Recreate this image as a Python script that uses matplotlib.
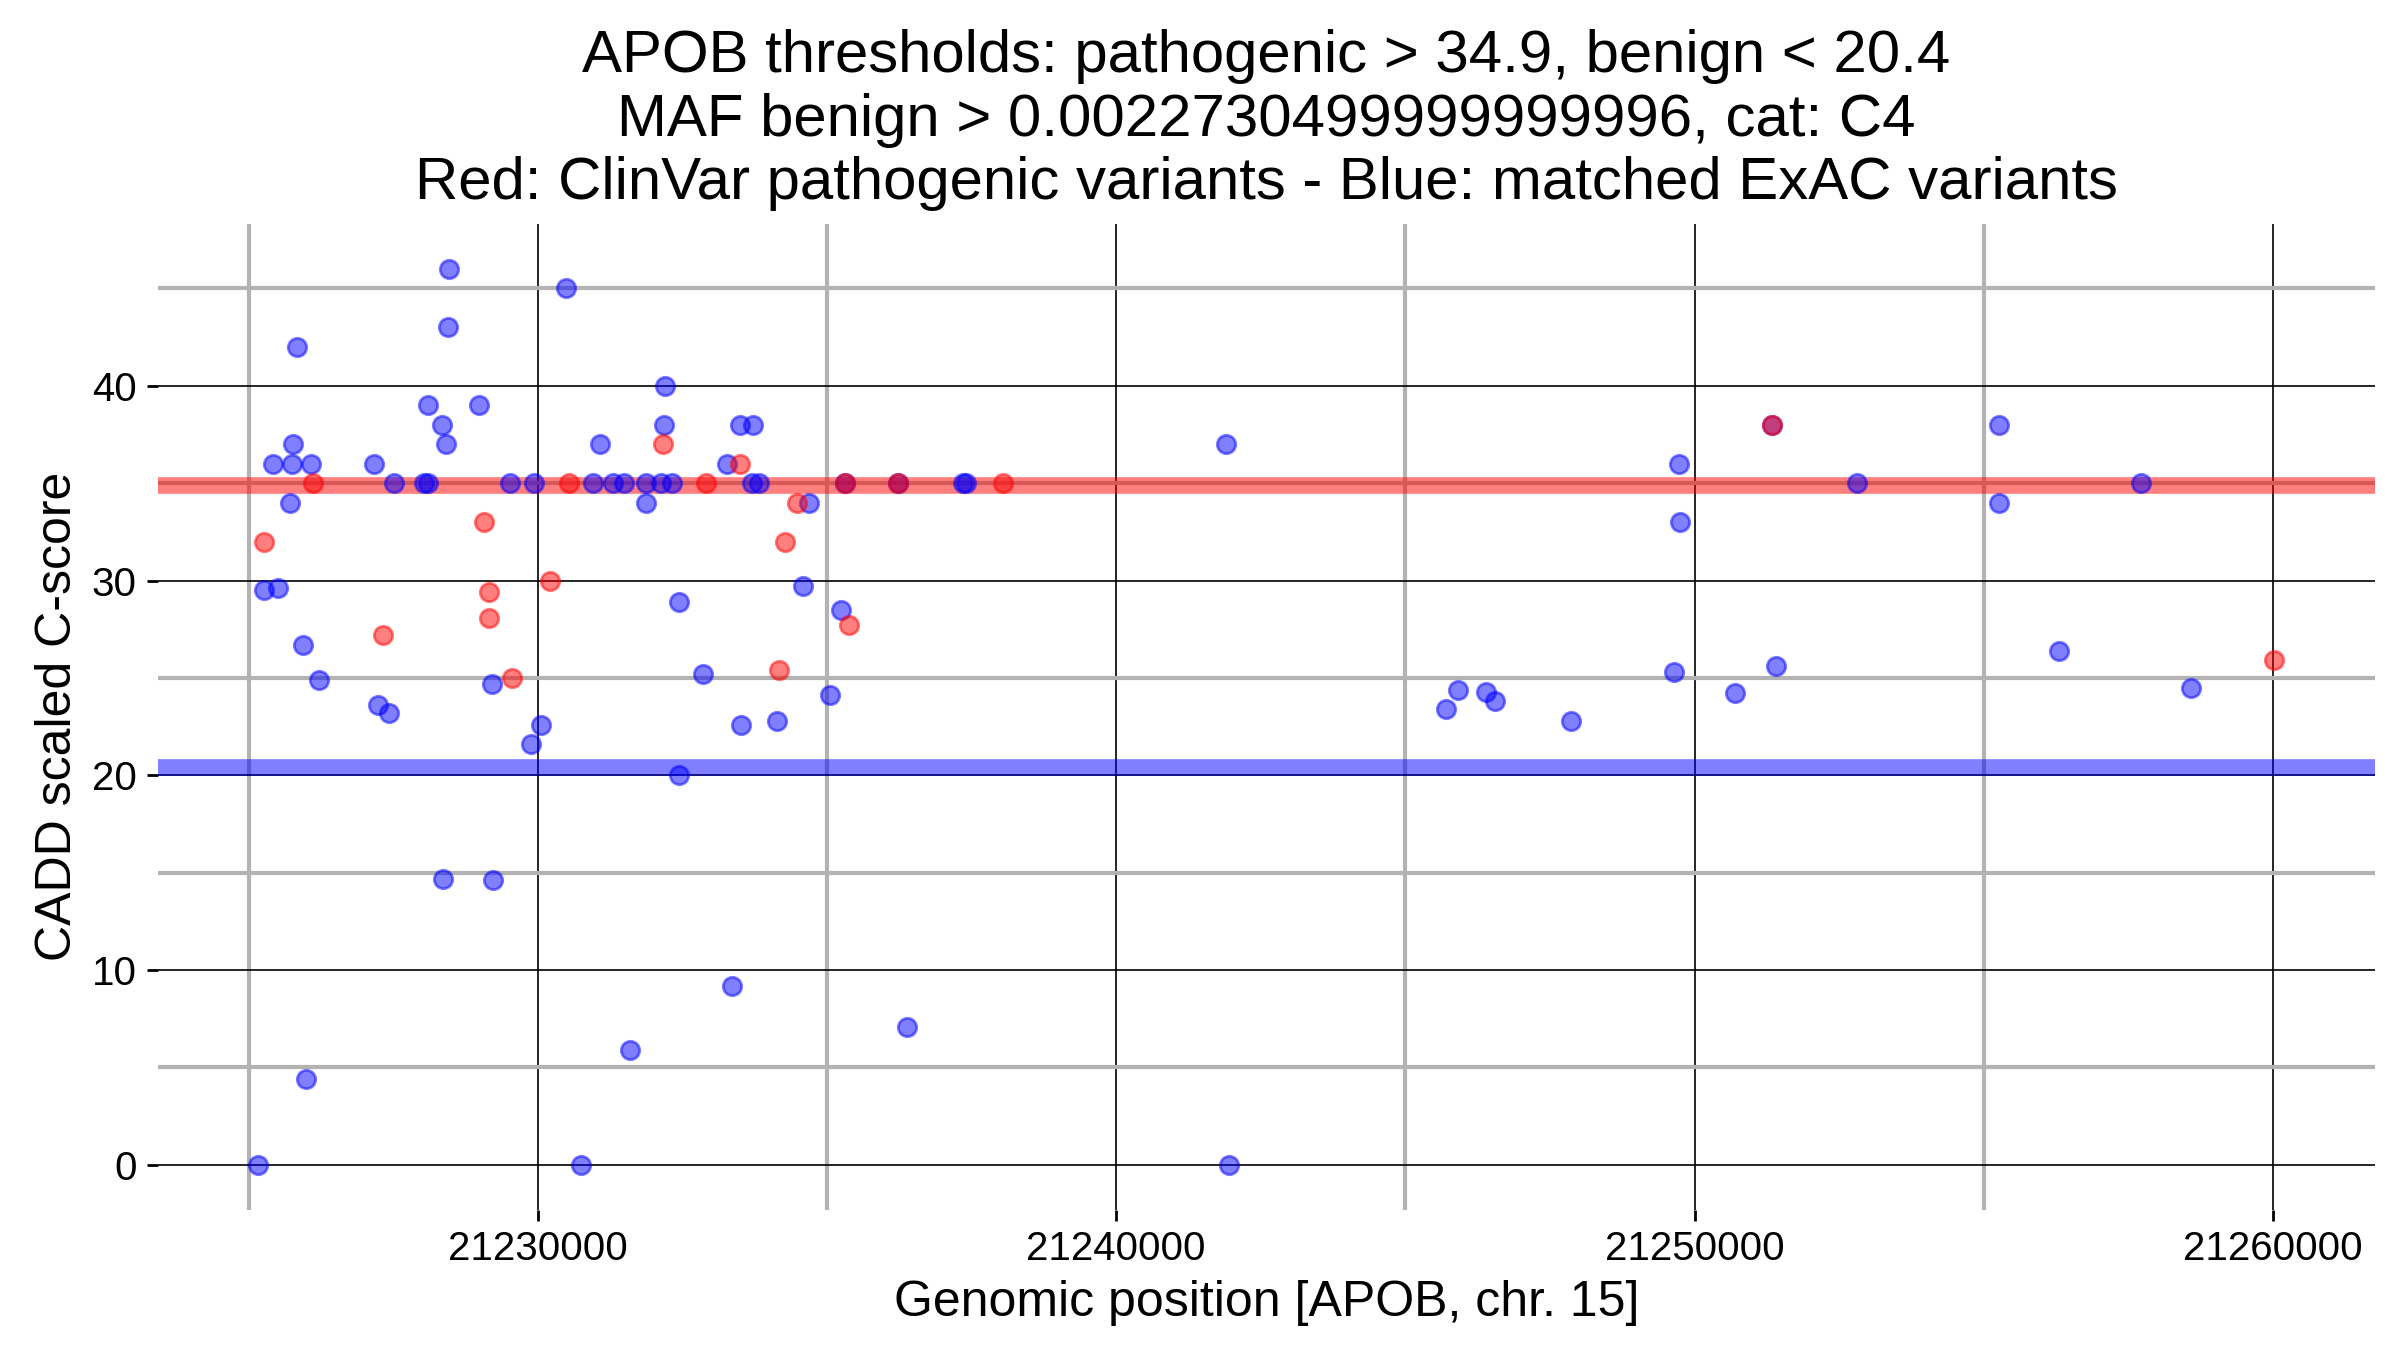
import numpy as np
import matplotlib
matplotlib.use('Agg')
import matplotlib.pyplot as plt
from matplotlib.ticker import MultipleLocator, ScalarFormatter

plt.rcParams['font.family'] = ['Liberation Sans', 'DejaVu Sans']

gene = 'APOB'
chrom = 15
path_thr = 34.9
benign_thr = 20.4
maf_thr = 0.0022730499999999996
cat = 'C4'

# ClinVar pathogenic (red)
red_pos = [21225271, 21226117, 21227321, 21229066, 21229159, 21229159, 21229551,
           21230213, 21230530, 21232171, 21232902, 21233495, 21234170, 21234274,
           21234474, 21235309, 21235386, 21236225, 21238034, 21251346, 21260029]
red_score = [32.0, 35, 27.2, 33.0, 29.4, 28.1, 25.0,
             30.0, 35, 37, 35, 36, 25.4, 32,
             34, 35, 27.7, 35, 35, 38, 25.9]

# matched ExAC (blue)
blue_pos = [21225168, 21225271, 21225501, 21225420, 21225714, 21225755, 21225766,
            21225835, 21225945, 21225996, 21226083, 21226210, 21227170, 21227241,
            21227431, 21227516, 21228024, 21228093, 21228094, 21228341, 21228351,
            21228410, 21228439, 21228456, 21228975, 21229200, 21229215, 21229510,
            21229879, 21229935, 21230058, 21230478, 21230741, 21230955, 21231080,
            21231300, 21231490, 21231596, 21231877, 21231877, 21232136, 21232183,
            21232194, 21232326, 21232434, 21232442, 21232851, 21233277, 21233360,
            21233497, 21233514, 21233697, 21233715, 21233823, 21234136, 21234591,
            21234687, 21235058, 21235236, 21235309, 21236225, 21236385, 21237350,
            21237400, 21241901, 21241958, 21245701, 21245913, 21246389, 21246554,
            21247870, 21249650, 21249729, 21249755, 21250694, 21251346, 21251409,
            21252808, 21255259, 21255259, 21256308, 21257725, 21258577]
blue_score = [0, 29.5, 29.6, 36, 34, 36, 37,
              42, 26.7, 4.4, 36, 24.9, 36, 23.6,
              23.2, 35, 35, 35, 39, 38, 14.7,
              37, 43, 46, 39, 24.7, 14.6, 35,
              21.6, 35, 22.6, 45, 0, 35, 37,
              35, 35, 5.9, 35, 34, 35, 38,
              40, 35, 20.0, 28.9, 25.2, 36, 9.2,
              38, 22.6, 35, 38, 35, 22.8, 29.7,
              34, 24.1, 28.5, 35, 35, 7.1, 35,
              35, 37, 0, 23.4, 24.4, 24.3, 23.8,
              22.8, 25.3, 36, 33, 24.2, 38, 25.6,
              35, 38, 34, 26.4, 35, 24.5]

fig = plt.figure(figsize=(12, 6.75), dpi=200)
ax = fig.add_axes([0.0657, 0.104, 0.924, 0.73])

ax.axhline(path_thr, color='red', alpha=0.5, linewidth=6, zorder=2)
ax.axhline(benign_thr, color='blue', alpha=0.5, linewidth=6, zorder=2)
ax.scatter(blue_pos, blue_score, s=44, color='blue', alpha=0.5, linewidths=1, zorder=3)
ax.scatter(red_pos, red_score, s=44, color='red', alpha=0.5, linewidths=1, zorder=4)

ax.xaxis.set_major_locator(MultipleLocator(10000))
ax.xaxis.set_minor_locator(MultipleLocator(5000))
ax.yaxis.set_major_locator(MultipleLocator(10))
ax.yaxis.set_minor_locator(MultipleLocator(5))
fmt = ScalarFormatter(useOffset=False)
fmt.set_scientific(False)
ax.xaxis.set_major_formatter(fmt)

ax.grid(which='major', color='black', linewidth=0.6)
ax.grid(which='minor', color='#b3b3b3', linewidth=1.5)
ax.tick_params(which='minor', length=0)
ax.tick_params(which='major', length=4, width=1, labelsize=14.5)
for s in ax.spines.values():
    s.set_visible(False)

ax.set_xlabel('Genomic position [%s, chr. %d]' % (gene, chrom), fontsize=18)
ax.set_ylabel('CADD scaled C-score', fontsize=18)
ax.set_title('%s thresholds: pathogenic > %s, benign < %s\nMAF benign > %s, cat: %s\n'
             'Red: ClinVar pathogenic variants - Blue: matched ExAC variants'
             % (gene, path_thr, benign_thr, maf_thr, cat), fontsize=21.6, pad=9)

plt.savefig('out.png')
